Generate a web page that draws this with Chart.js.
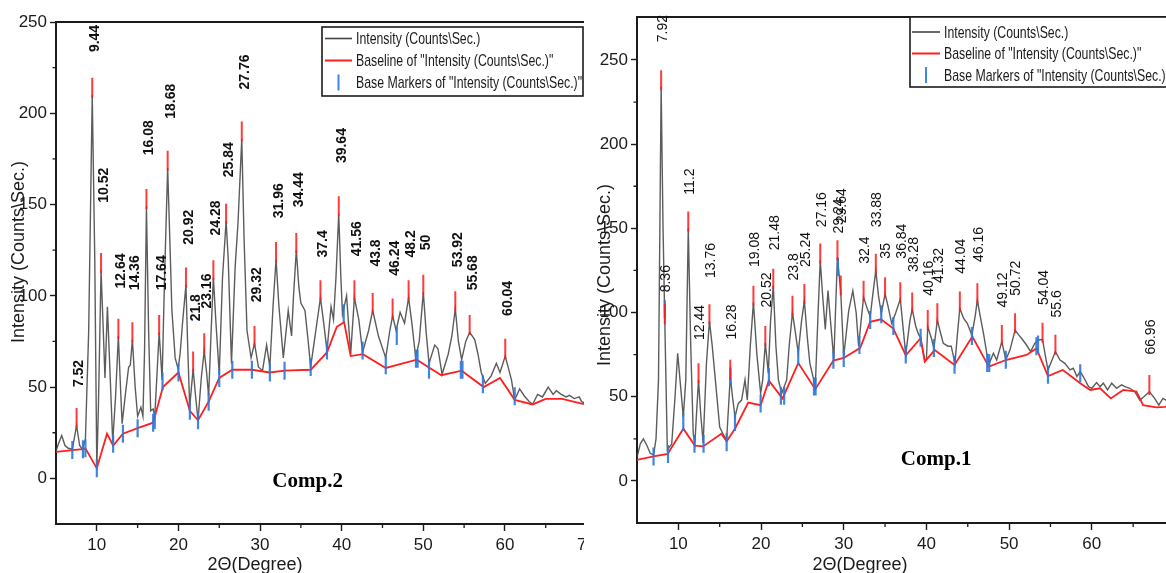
<!DOCTYPE html>
<html>
<head>
<meta charset="utf-8">
<script src="https://cdn.jsdelivr.net/npm/chart.js@4.4.1/dist/chart.umd.min.js"></script>
<style>
  html, body { margin: 0; padding: 0; background: #fff; width: 1166px; height: 573px; overflow: hidden; }
  .panel { position: absolute; top: 0; height: 573px; overflow: hidden; }
  #p2 { left: 0; width: 584px; }
  #p1 { left: 590px; width: 576px; }
  canvas { display: block; }
</style>
</head>
<body>
<div class="panel" id="p2"><canvas id="c2" width="600" height="573"></canvas></div>
<div class="panel" id="p1"><canvas id="c1" width="600" height="573"></canvas></div>
<script>
// ---------- Comp.2 : XRD pattern, 2θ (deg) vs intensity (counts/s) ----------
const comp2Intensity = [
  [5.0,15],[5.3,19],[5.7,23.5],[6.1,18],[6.5,16.5],[7.0,16],[7.52,29],[7.9,18],[8.2,16],[8.6,21],
  [9.0,80],[9.44,210],[9.75,120],[10.0,6],[10.2,40],[10.52,114],[10.8,80],[11.0,55],[11.3,94],[11.6,60],
  [11.95,20],[12.3,45],[12.64,78],[12.9,50],[13.1,30],[13.5,46],[13.9,61],[14.1,62],[14.36,76],[14.7,50],
  [15.0,34],[15.4,39],[15.65,34],[15.85,70],[16.08,149],[16.35,80],[16.6,37],[16.9,38],[17.1,34],[17.35,55],
  [17.64,80],[17.85,65],[18.0,54],[18.3,110],[18.68,170],[18.95,130],[19.2,92],[19.6,66],[19.96,60],[20.2,68],
  [20.5,85],[20.92,106],[21.15,70],[21.38,39],[21.8,60],[22.1,45],[22.4,32],[22.8,55],[23.16,70],[23.45,58],
  [23.7,45],[24.0,80],[24.28,110],[24.6,85],[25.0,57],[25.4,110],[25.84,141],[26.1,120],[26.5,63],[26.95,116],
  [27.3,140],[27.76,186],[28.05,130],[28.4,81],[28.9,66],[29.32,74],[29.8,61],[30.3,59],[30.8,73],[31.2,61],
  [31.6,95],[31.96,120],[32.3,95],[32.85,66],[33.45,92],[33.86,78],[34.1,100],[34.44,125],[34.75,105],[35.0,96],
  [35.5,92],[35.9,75],[36.2,61],[36.8,80],[37.4,99],[37.8,85],[38.2,70],[38.7,94],[39.0,87],[39.3,110],
  [39.64,145],[39.9,110],[40.1,90],[40.6,100],[41.1,68],[41.56,99],[42.1,87],[42.56,69],[43.3,81],[43.8,92],
  [44.5,78],[45.4,66],[45.9,81],[46.24,89],[46.67,81],[47.16,91],[47.7,85],[48.2,99],[48.6,85],[49.07,66],
  [49.5,75],[50.0,102],[50.35,80],[50.7,63],[51.4,73],[51.8,71],[52.3,57],[53.05,68],[53.5,78],[53.92,93],
  [54.3,75],[54.7,65],[55.2,75],[55.68,80],[56.3,76],[56.7,68],[57.1,58],[57.6,52],[58.3,56],[58.95,63],
  [59.4,58],[60.04,67],[60.8,54],[61.2,43],[61.8,49],[62.4,45],[63.0,42],[63.4,40.6],[64.0,46],[64.6,44.6],
  [65.3,50],[65.9,46],[66.3,48],[66.9,46],[67.5,44.6],[67.9,45.5],[68.5,43.7],[69.1,44.6],[69.4,42],[70.0,41]
];
const comp2Baseline = [
  [5.0,14.5],[7.0,15.5],[8.3,16],[8.6,16.5],[10.0,5.5],[11.25,24.5],[12.0,18],[13.2,24.5],[15.0,27.5],[16.9,30.5],
  [18.1,50],[20.0,58],[21.4,37],[22.4,31.8],[23.7,42],[25.0,55],[26.6,59.5],[29.0,59.5],[31.2,58],[33.0,59],
  [36.2,59.5],[38.2,69],[39.4,83],[40.3,85.5],[41.1,67],[42.6,68],[45.4,60.5],[49.2,65],[52.2,56.5],[54.7,59],
  [57.4,50],[59.4,55],[61.2,43],[63.4,40.5],[65.0,43.5],[67.0,43.5],[69.4,41],[70.0,40.5]
];
const comp2BaseMarkers = [
  [7.0,15.5],[8.3,16],[8.6,16.5],[10.0,5.5],[12.0,19],[13.2,24.5],[15.0,27.5],[16.9,30.5],[17.1,32],[18.05,53],
  [20.0,58],[21.4,37],[22.4,31.8],[23.7,42],[25.0,55],[26.6,59.5],[29.0,59.5],[31.2,58],[33.0,59],[36.2,61],
  [38.2,70],[40.25,90.5],[42.56,70],[45.4,62],[46.75,78],[49.1,65.5],[49.3,65.5],[50.7,59.5],[54.6,59.5],[54.8,59.5],
  [57.3,51.5],[61.2,45]
];
const comp2Peaks = ['7.52','9.44','10.52','12.64','14.36','16.08','17.64','18.68','20.92','21.8','23.16','24.28','25.84',
  '27.76','29.32','31.96','34.44','37.4','39.64','41.56','43.8','46.24','48.2','50','53.92','55.68','60.04'];
// height (intensity units) where each rotated peak label starts
const comp2LabelY = [50,233.5,151,104,103,177,103,197,128,86,93,133,165,213,96.5,142.5,148.5,121,172.7,121.7,116,111,121,125,115.7,103,89];

// ---------- Comp.1 ----------
const comp1Intensity = [
  [5.0,14],[5.4,22],[5.77,25],[6.2,21],[6.6,16.4],[7.0,15.4],[7.3,25],[7.6,60],[7.92,234],[8.15,150],
  [8.36,95],[8.67,18.4],[9.2,22],[9.6,50],[9.92,75.8],[10.2,60],[10.6,38],[10.9,60],[11.2,150],[11.5,80],
  [11.8,28],[12.0,22.4],[12.2,40],[12.44,60],[12.7,40],[13.0,22.4],[13.4,70],[13.76,95],[14.1,80],[14.4,64],
  [15.0,32],[15.36,28.3],[15.84,24.3],[16.28,62],[16.55,50],[16.85,38],[17.25,46],[17.65,48],[18.06,60],[18.34,48],
  [18.7,80],[19.08,106],[19.5,75],[19.95,52],[20.2,60],[20.52,82],[20.88,64],[21.15,95],[21.48,116],[21.8,80],
  [22.1,60],[22.5,52],[23.1,60],[23.4,80],[23.8,100],[24.1,90],[24.5,76],[24.9,95],[25.24,107],[25.6,85],
  [25.9,70],[26.56,56],[26.9,100],[27.16,131],[27.45,110],[27.77,90],[28.1,113],[28.4,95],[28.8,72],[29.0,100],
  [29.24,133],[29.64,112],[30.0,74],[30.6,101],[31.1,113],[31.5,100],[31.8,80],[32.1,95],[32.4,109],[32.8,103],
  [33.2,97.5],[33.5,110],[33.88,125],[34.2,110],[34.54,99.5],[35.0,111],[35.3,105],[35.8,93.6],[36.3,100],[36.84,108],
  [37.2,90],[37.5,75],[38.0,95],[38.28,102],[38.7,92],[39.0,87.6],[39.3,84.7],[39.8,71.8],[40.0,72],[40.16,91.6],
  [40.6,84.7],[40.9,78.7],[41.32,95.5],[41.7,88],[42.04,81.7],[42.6,80],[43.0,80],[43.45,69.8],[43.8,90],[44.04,102.5],
  [44.5,96.5],[44.94,93.6],[45.5,86.6],[45.9,98],[46.16,107.4],[46.5,98],[46.9,87.6],[47.3,75.8],[47.6,69.8],[48.1,75.8],
  [48.5,71.8],[49.12,82.7],[49.6,71.8],[50.1,77.7],[50.72,89.6],[51.1,87],[51.5,84.7],[52.1,80.7],[52.6,76.8],[53.1,81.7],
  [53.5,83.7],[54.04,84],[54.4,74],[54.7,65.9],[55.2,72],[55.6,76.8],[56.15,71.8],[56.75,69.8],[57.35,65.9],[57.76,66.9],
  [58.2,62],[58.6,64.9],[58.97,62],[59.6,56],[60.0,55],[60.58,58.4],[61.0,56],[61.4,58],[61.9,54],[62.4,58],
  [63.0,55],[63.6,57],[64.0,56],[64.6,55],[65.2,53],[65.8,48],[66.3,50],[66.96,53],[67.6,49],[68.1,45],
  [68.6,49],[68.96,48],[69.5,47],[70.0,46]
];
const comp1Baseline = [
  [5.0,12.5],[7.0,14.5],[8.7,16],[10.6,31],[12.0,21],[13.0,20.5],[15.2,28],[15.84,23.5],[16.85,31],[18.45,46.5],
  [19.95,45],[20.95,59.5],[22.6,49],[24.5,70],[26.56,54.5],[28.75,71.5],[30.0,73],[32.0,79],[33.2,94.5],[34.5,96],
  [36.0,90.5],[37.5,74.5],[39.3,84.7],[39.8,70.8],[41.0,77.7],[43.4,68.8],[45.55,85.7],[47.55,67.9],[49.6,71.8],[52.1,74.8],
  [53.3,78.7],[54.7,62.3],[56.5,65.9],[58.6,58],[59.8,54],[61.0,55],[62.3,49],[63.8,54],[65.4,53],[66.2,45],
  [67.8,43.7],[68.85,44],[70.0,45]
];
const comp1BaseMarkers = [
  [7.0,14.5],[8.36,102],[8.75,16],[10.6,35],[11.95,22],[13.05,22],[15.84,23],[16.3,62],[16.85,35],[19.95,46],
  [20.95,61.5],[22.4,50.5],[22.8,50.5],[24.5,74],[26.4,56],[26.6,56],[28.75,72],[29.3,127],[30.0,73],[31.9,80.7],
  [33.2,95.5],[34.54,99],[36.0,92],[37.5,75],[39.3,85],[40.9,79],[43.4,69],[45.5,86],[47.35,70],[47.6,70],
  [49.6,72],[53.3,80],[53.5,81],[54.7,63],[58.6,64]
];
const comp1Peaks = ['7.92','8.36','11.2','12.44','13.76','16.28','19.08','20.52','21.48','23.8','25.24','27.16','29.24',
  '29.64','32.4','33.88','35','36.84','38.28','40.16','41.32','44.04','46.16','49.12','50.72','54.04','55.6','66.96'];
const comp1LabelY = [260.5,112,170,83.7,120.5,84,127,103,137,119,127,150.7,147,153,129,150.7,132,132,124,110,117.5,123,130,103,110,104.5,97,75];

// axis ticks
const xTicksComp2 = [10, 20, 30, 40, 50, 60, 70];
const xTicksComp1 = [10, 20, 30, 40, 50, 60];
const xMinorTicks = [15, 25, 35, 45, 55, 65];
const yTicks = [0, 50, 100, 150, 200, 250];
const yMinorTicks = [25, 75, 125, 175, 225];

const legendTexts = ['Intensity (Counts\\Sec.)', 'Baseline of "Intensity (Counts\\Sec.)"', 'Base Markers of "Intensity (Counts\\Sec.)"'];

// ---------- helpers ----------
const NARROW = "'Liberation Sans Narrow', 'Arial Narrow', 'Liberation Sans', Arial, sans-serif";
const SANS = "'Liberation Sans', Arial, sans-serif";
const SERIF = "'Liberation Serif', 'Times New Roman', serif";
const INK = '#1b1b1b';
const CURVE = 'rgba(70,70,70,0.88)';
const RED = '#ff1f1f';
const BLUE = 'rgba(45,120,220,0.9)';

const toPts = arr => arr.map(([x, y]) => ({ x, y }));

// red peak ticks sit on the curve apex at each labelled 2θ
function peakPoints(curve, labels) {
  return labels.map(t => {
    const v = parseFloat(t);
    const hit = curve.find(p => Math.abs(p[0] - v) < 1e-6);
    return { x: v, y: hit[1] + 4 };
  });
}

const decor = {
  id: 'xrdDecor',
  afterDraw(chart, args, o) {
    const { ctx, chartArea: a } = chart;
    const xs = chart.scales.x, ys = chart.scales.y;
    ctx.save();

    // top frame line
    ctx.strokeStyle = INK;
    ctx.lineWidth = 2;
    ctx.beginPath();
    ctx.moveTo(a.left - 1, a.top);
    ctx.lineTo(chart.width, a.top);
    ctx.stroke();

    // minor ticks
    ctx.lineWidth = 1.3;
    ctx.beginPath();
    xMinorTicks.forEach(v => {
      const p = xs.getPixelForValue(v);
      ctx.moveTo(p, a.bottom); ctx.lineTo(p, a.bottom + 4);
    });
    yMinorTicks.forEach(v => {
      const p = ys.getPixelForValue(v);
      ctx.moveTo(a.left, p); ctx.lineTo(a.left - 3.5, p);
    });
    ctx.stroke();

    // rotated peak labels
    ctx.fillStyle = '#111';
    ctx.font = o.peakFont;
    ctx.textAlign = 'left';
    ctx.textBaseline = 'middle';
    o.labels.forEach((t, i) => {
      const px = xs.getPixelForValue(parseFloat(t)) + o.labelDx;
      const py = ys.getPixelForValue(o.labelY[i]);
      ctx.save();
      ctx.translate(px, py);
      ctx.rotate(-Math.PI / 2);
      ctx.fillText(t, 0, 0);
      ctx.restore();
    });

    // sample name
    ctx.font = 'bold 21px ' + SERIF;
    ctx.textBaseline = 'alphabetic';
    ctx.fillStyle = '#000';
    ctx.fillText(o.sample, xs.getPixelForValue(o.sampleAt[0]), ys.getPixelForValue(o.sampleAt[1]));

    // axis titles
    ctx.fillStyle = INK;
    ctx.font = '18px ' + NARROW;
    ctx.textAlign = 'center';
    ctx.fillText('2\u0398(Degree)', o.xTitle[0], o.xTitle[1]);
    ctx.save();
    ctx.translate(o.yTitle[0], o.yTitle[1]);
    ctx.rotate(-Math.PI / 2);
    ctx.font = '18px ' + SANS;
    ctx.textBaseline = 'middle';
    ctx.fillText('Intensity (Counts\\Sec.)', 0, 0, o.yTitle[2]);
    ctx.restore();

    // legend box
    const L = o.legend;
    ctx.fillStyle = '#fff';
    ctx.fillRect(L.x, L.y, L.w, L.h);
    ctx.strokeStyle = INK;
    ctx.lineWidth = 1.6;
    ctx.strokeRect(L.x, L.y, L.w, L.h);
    ctx.lineWidth = 1.6;
    ctx.strokeStyle = '#444';
    ctx.beginPath(); ctx.moveTo(L.s0, L.rows[0]); ctx.lineTo(L.s1, L.rows[0]); ctx.stroke();
    ctx.strokeStyle = RED;
    ctx.lineWidth = 2;
    ctx.beginPath(); ctx.moveTo(L.s0, L.rows[1]); ctx.lineTo(L.s1, L.rows[1]); ctx.stroke();
    ctx.strokeStyle = BLUE;
    const mx = (L.s0 + L.s1) / 2;
    ctx.beginPath(); ctx.moveTo(mx, L.rows[2] - 8); ctx.lineTo(mx, L.rows[2] + 8); ctx.stroke();

    ctx.font = '17px ' + NARROW;
    ctx.fillStyle = INK;
    ctx.textAlign = 'left';
    ctx.textBaseline = 'middle';
    const sx = L.tw / ctx.measureText(legendTexts[2]).width;
    legendTexts.forEach((t, i) => {
      ctx.save();
      ctx.translate(L.tx, L.rows[i] + 1);
      ctx.scale(sx, 1);
      ctx.fillText(t, 0, 0);
      ctx.restore();
    });

    ctx.restore();
  }
};

function makeChart(id, d) {
  return new Chart(document.getElementById(id), {
    type: 'scatter',
    data: {
      datasets: [
        { label: legendTexts[0], data: toPts(d.curve), showLine: true, borderColor: CURVE, borderWidth: 1.4,
          pointRadius: 0, tension: 0, order: 4 },
        { label: legendTexts[1], data: toPts(d.base), showLine: true, borderColor: RED, borderWidth: 1.8,
          pointRadius: 0, tension: 0, order: 3 },
        { label: legendTexts[2], data: toPts(d.markers), showLine: false, pointStyle: 'line', pointRotation: 90,
          pointRadius: 9, borderColor: BLUE, pointBorderColor: BLUE, pointBorderWidth: 2.2, order: 2 },
        { label: 'peaks', data: peakPoints(d.curve, d.labels), showLine: false, pointStyle: 'line', pointRotation: 90,
          pointRadius: 10, borderColor: 'rgba(255,25,25,0.85)', pointBorderColor: 'rgba(255,25,25,0.85)',
          pointBorderWidth: 2, order: 1 }
      ]
    },
    options: {
      responsive: false,
      animation: false,
      devicePixelRatio: 1,
      events: [],
      layout: { padding: { top: d.top, right: d.padRight, left: 0, bottom: 0 } },
      scales: {
        x: {
          type: 'linear', position: 'bottom', min: 5, max: 70,
          afterBuildTicks: s => { s.ticks = d.xTicks.map(v => ({ value: v })); },
          afterFit: s => { s.height = d.xAxisH; },
          ticks: { font: { family: NARROW, size: 17 }, color: INK, padding: 4, maxRotation: 0 },
          grid: { drawOnChartArea: false, tickLength: 7, color: INK, tickWidth: 1.4 },
          border: { color: INK, width: 2 }
        },
        y: {
          type: 'linear', min: -25, max: d.yMax,
          afterBuildTicks: s => { s.ticks = yTicks.map(v => ({ value: v })); },
          afterFit: s => { s.width = d.yAxisW; },
          ticks: { font: { family: NARROW, size: 17 }, color: INK, padding: 3 },
          grid: { drawOnChartArea: false, tickLength: 6, color: INK, tickWidth: 1.4 },
          border: { color: INK, width: 2 }
        }
      },
      plugins: {
        legend: { display: false },
        tooltip: { enabled: false },
        xrdDecor: {
          labels: d.labels, labelY: d.labelY, labelDx: d.labelDx, peakFont: d.peakFont,
          sample: d.sample, sampleAt: d.sampleAt, xTitle: d.xTitle, yTitle: d.yTitle, legend: d.legend
        }
      }
    },
    plugins: [decor]
  });
}

makeChart('c2', {
  curve: comp2Intensity, base: comp2Baseline, markers: comp2BaseMarkers,
  labels: comp2Peaks, labelY: comp2LabelY, labelDx: 3, peakFont: 'bold 14px ' + SANS,
  xTicks: xTicksComp2, yMax: 250, top: 22, padRight: 11, xAxisH: 49, yAxisW: 56,
  sample: 'Comp.2', sampleAt: [31.5, -5],
  xTitle: [255, 570], yTitle: [19, 252, 211],
  legend: { x: 322, y: 27, w: 261, h: 69, rows: [38.5, 60.5, 82.5], s0: 325, s1: 352, tx: 356, tw: 226 }
});

makeChart('c1', {
  curve: comp1Intensity, base: comp1Baseline, markers: comp1BaseMarkers,
  labels: comp1Peaks, labelY: comp1LabelY, labelDx: 1.5, peakFont: '14px ' + SANS,
  xTicks: xTicksComp1, yMax: 275.5, top: 17, padRight: 15.5, xAxisH: 50, yAxisW: 47,
  sample: 'Comp.1', sampleAt: [36.9, 9.5],
  xTitle: [270, 570], yTitle: [15, 275, 205],
  legend: { x: 320, y: 17, w: 400, h: 70, rows: [32, 53.5, 75], s0: 322, s1: 350, tx: 354, tw: 226 }
});
</script>
</body>
</html>
